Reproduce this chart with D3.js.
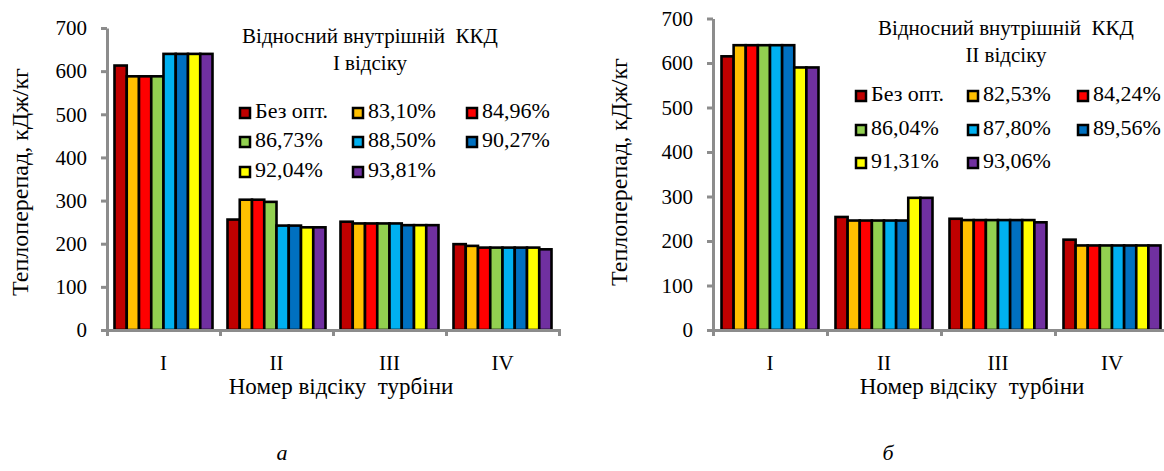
<!DOCTYPE html>
<html>
<head>
<meta charset="utf-8">
<script src="https://cdn.jsdelivr.net/npm/d3@7"></script>
<style>
  body { margin: 0; background: #fff; }
  svg text { font-family: "Liberation Serif", "Times New Roman", serif !important; fill: #000; white-space: pre; }
  .axis path, .axis line { stroke: #8c8c8c; stroke-width: 3; }
  .axis text { font-size: 21px; }
</style>
</head>
<body>
<script>
// categories (turbine sections)
var categories = ["I", "II", "III", "IV"];
var yTicks = [0, 100, 200, 300, 400, 500, 600, 700];

// legend labels
var seriesA = ["Без опт.", "83,10%", "84,96%", "86,73%", "88,50%", "90,27%", "92,04%", "93,81%"];
var seriesB = ["Без опт.", "82,53%", "84,24%", "86,04%", "87,80%", "89,56%", "91,31%", "93,06%"];

// values per category, one per series (kJ/kg)
var valuesA_I   = [613, 588, 588, 588, 640, 640, 640, 640];
var valuesA_II  = [256, 302, 302, 297, 242, 242, 238, 238];
var valuesA_III = [251, 247, 247, 247, 247, 243, 243, 243];
var valuesA_IV  = [199, 195, 191, 191, 191, 191, 191, 187];

var valuesB_I   = [615, 640, 640, 640, 640, 640, 590, 590];
var valuesB_II  = [254, 246, 246, 246, 246, 246, 297, 297];
var valuesB_III = [250, 247, 247, 247, 247, 247, 247, 242];
var valuesB_IV  = [203, 190, 190, 190, 190, 190, 190, 190];

var colors = ["#c00000", "#ffc000", "#ff0000", "#92d050", "#00b0f0", "#0070c0", "#ffff00", "#7030a0"];

var svg = d3.select("body").append("svg").attr("width", 1164).attr("height", 471);

function drawChart(cfg) {
  var y = d3.scaleLinear().domain([0, 700]).range([cfg.y0, cfg.y1]);
  var x0 = d3.scaleBand().domain(categories).range([cfg.xl, cfg.xr]);
  var x1 = d3.scaleBand().domain(d3.range(8)).range([cfg.pad, x0.bandwidth() - cfg.pad]);
  var xb = d3.scaleLinear().domain([0, 4]).range([cfg.xl, cfg.xr]);

  var g = svg.append("g");

  // bars
  cfg.values.forEach(function(vals, ci) {
    g.selectAll(null)
      .data(vals)
      .enter().append("rect")
        .attr("x", function(d, i) { return x0(categories[ci]) + x1(i); })
        .attr("y", function(d) { return y(d); })
        .attr("width", x1.bandwidth())
        .attr("height", function(d) { return y(0) - y(d); })
        .attr("fill", function(d, i) { return colors[i]; })
        .attr("stroke", "#000")
        .attr("stroke-width", 2.6);
  });

  // y axis
  g.append("g").attr("class", "axis")
    .attr("transform", "translate(" + cfg.xl + ",0)")
    .call(d3.axisLeft(y).tickValues(yTicks).tickSize(6).tickSizeOuter(0).tickPadding(14));

  // x axis (tick marks at group boundaries)
  g.append("g").attr("class", "axis")
    .attr("transform", "translate(0," + cfg.y0 + ")")
    .call(d3.axisBottom(xb).ticks(4).tickFormat("").tickSize(6).tickSizeOuter(6));

  // category labels
  var cl = g.append("g").attr("class", "axis")
    .attr("transform", "translate(0," + (cfg.y0 + 22) + ")")
    .call(d3.axisBottom(x0).tickSize(0));
  cl.select(".domain").remove();

  // axis titles
  g.append("text")
    .attr("transform", "translate(" + cfg.ylabX + "," + cfg.ylabY + ") rotate(-90)")
    .attr("text-anchor", "middle")
    .attr("dominant-baseline", "middle")
    .style("font-size", "24px")
    .text("Теплоперепад, кДж/кг");

  g.append("text")
    .attr("x", cfg.xlabX).attr("y", 389)
    .attr("text-anchor", "middle")
    .attr("dominant-baseline", "middle")
    .style("font-size", "23px")
    .text("Номер відсіку  турбіни");

  // legend title
  g.append("text")
    .attr("x", cfg.titleX).attr("y", cfg.titleY)
    .attr("text-anchor", "middle").attr("dominant-baseline", "middle")
    .style("font-size", "21px")
    .text("Відносний внутрішній  ККД");
  g.append("text")
    .attr("x", cfg.titleX).attr("y", cfg.titleY + 27)
    .attr("text-anchor", "middle").attr("dominant-baseline", "middle")
    .style("font-size", "21px")
    .text(cfg.subtitle);

  // legend entries
  var leg = g.selectAll(".leg")
    .data(cfg.series)
    .enter().append("g")
      .attr("class", "leg")
      .attr("transform", function(d, i) {
        return "translate(" + cfg.legCols[i % 3] + "," + cfg.legRows[Math.floor(i / 3)] + ")";
      });
  leg.append("rect")
    .attr("x", -5).attr("y", -5).attr("width", 10).attr("height", 10)
    .attr("fill", function(d, i) { return colors[i]; })
    .attr("stroke", "#000").attr("stroke-width", 2.5);
  leg.append("text")
    .attr("x", 10).attr("dominant-baseline", "middle")
    .style("font-size", "22px")
    .text(function(d) { return d; });

  // caption
  g.append("text")
    .attr("x", cfg.capX).attr("y", 455)
    .attr("text-anchor", "middle").attr("dominant-baseline", "middle")
    .style("font-size", "22px").style("font-style", "italic")
    .text(cfg.caption);
}

drawChart({
  xl: 107, xr: 559, y0: 330, y1: 28, pad: 7.5,
  values: [valuesA_I, valuesA_II, valuesA_III, valuesA_IV],
  series: seriesA,
  ylabX: 22, ylabY: 182, xlabX: 341,
  titleX: 370, titleY: 38, subtitle: "І відсіку",
  legCols: [245, 358, 472], legRows: [113, 142, 172],
  capX: 282, caption: "а"
});

drawChart({
  xl: 713, xr: 1169, y0: 330, y1: 18.5, pad: 8.5,
  values: [valuesB_I, valuesB_II, valuesB_III, valuesB_IV],
  series: seriesB,
  ylabX: 621, ylabY: 172, xlabX: 972,
  titleX: 1006, titleY: 30, subtitle: "ІІ відсіку",
  legCols: [861, 973, 1083], legRows: [96, 130, 163],
  capX: 888, caption: "б"
});
</script>
</body>
</html>
